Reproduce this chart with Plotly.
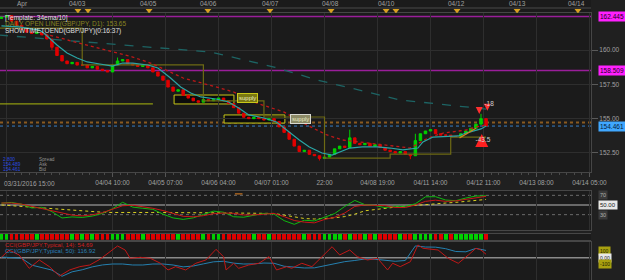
import plotly.graph_objects as go

# ---------------- data ----------------
# 2-hour bars on a trading-hour index (0 = 03/31/2016 15:00)
bar_hours = list(range(-2, 191, 2))
closes = [162.4, 162.5, 162.1, 161.8, 161.5, 161.3, 161.2, 161.3, 161.1, 160.8,
          160.2, 159.6, 159.2, 159.0, 159.1, 158.9, 158.9, 158.7, 158.8, 158.6,
          158.5, 158.4, 158.9, 159.2, 159.3, 159.0, 158.9, 158.8, 158.9, 158.7,
          158.4, 158.1, 157.8, 157.3, 157.0, 157.1, 156.7, 156.5, 156.3, 156.2,
          156.4, 156.3, 156.4, 156.5, 156.3, 156.1, 155.8, 155.4, 155.1, 155.0,
          155.1, 155.0, 154.9, 155.0, 154.8, 154.4, 154.0, 153.5, 153.0, 152.6,
          152.7, 152.4, 152.3, 152.1, 152.2, 152.4, 152.8, 153.0, 152.9, 153.6,
          153.2, 153.1, 153.2, 153.0, 153.1, 152.9, 152.7, 152.6, 152.5, 152.6,
          152.4, 152.3, 153.4, 153.9, 154.1, 154.2, 153.9, 153.8, 153.8, 153.7,
          153.7, 153.9, 154.1, 154.3, 154.6, 155.0, 154.46]
first_open = 162.3
wick_high = {69: 154.2, 82: 153.9, 95: 155.35, 23: 159.45}
wick_low = {63: 151.95, 81: 152.05, 10: 160.0}

ema_t = [-2, 5, 13, 15, 20, 24, 28, 32, 37, 42, 46, 50, 56, 60, 65, 69, 73, 77, 83, 88,
         92, 96, 102, 107, 112, 116, 120, 125, 129, 132, 136, 141, 147, 152, 157, 163,
         165, 169, 175, 179, 182, 188, 190]
ema_v = [161.75, 161.68, 161.45, 161.2, 160.36, 159.78, 159.42, 159.13, 158.98, 158.83,
         159.05, 159.05, 158.91, 158.69, 157.96, 157.31, 156.87, 156.58, 156.43, 156.21,
         155.78, 155.27, 155.05, 154.76, 154.03, 153.45, 152.94, 152.50, 152.35, 152.57,
         152.86, 152.94, 152.94, 152.86, 152.72, 152.86, 153.30, 153.66, 153.74, 153.74,
         153.95, 154.25, 154.46]

sma_t = [15, 24, 37, 50, 57, 70, 83, 90, 99, 110, 119, 127, 133, 143, 156, 160, 167, 173,
         182, 186, 190]
sma_v = [161.17, 160.73, 160.15, 159.49, 159.05, 157.96, 157.31, 156.94, 156.14, 155.48,
         154.54, 153.81, 153.45, 153.23, 152.94, 152.86, 153.59, 153.95, 154.17, 154.39,
         154.54]

lma_t = [-3, 37, 57, 81, 106, 123, 156, 184, 190]
lma_v = [161.09, 160.51, 160.22, 159.85, 158.76, 157.82, 156.36, 155.78, 155.70]

dopen_t = [-3, 30, 78, 102, 126, 152, 176, 190]
dopen_v = [161.60, 158.91, 156.29, 155.12, 152.13, 152.42, 153.66, 153.66]

wopen_t = [-3, 58]
wopen_v = [156.07, 156.07]

trend_t = [179.5, 186]
trend_v = [153.6, 154.3]

zone_t0 = [66.4, 86.2]
zone_t1 = [90.1, 110.3]
zone_lo = [156.07, 154.68]
zone_hi = [156.72, 155.27]
zone_label = ["supply", "supply"]
zone_label_t = [91.3, 112.3]
zone_label_v = [156.54, 155.01]

level_high = 162.445
level_low = 158.509
bid = 154.461
ask_line = 154.72

sig_dn_t = [187.3, 190.5]
sig_dn_v = [155.34, 155.58]
sig_up_t = [188.3]
sig_up_v = [153.88]
sig_txt = ["-18", "-43.5"]
sig_txt_t = [191.2, 188.8]
sig_txt_v = [156.05, 153.39]

osc_t = list(range(-2, 191, 4))
rsi_fast = [53.8, 55.3, 51.7, 43.8, 45.2, 36.2, 23.1, 25.3, 24.2, 27.1,
            32.5, 42.2, 55.6, 45.6, 43.2, 41.0, 31.0, 23.2, 20.2, 23.3,
            30.4, 37.3, 35.0, 25.7, 24.7, 28.3, 32.6, 31.1, 17.6, 10.0,
            18.4, 17.0, 24.2, 32.2, 46.9, 59.4, 50.7, 49.0, 44.5, 47.6,
            47.0, 52.5, 66.9, 67.2, 60.3, 58.9, 64.5, 68.6, 69.0]
rsi_slow = [54.1, 54.1, 51.7, 47.2, 41.4, 37.2, 33.0, 29.0, 27.4, 29.7,
            34.0, 40.5, 48.4, 49.4, 47.0, 43.2, 38.5, 32.2, 26.5, 25.5,
            27.9, 31.9, 33.4, 32.7, 29.3, 29.5, 31.7, 32.5, 26.0, 17.9,
            14.5, 13.0, 20.0, 24.5, 33.5, 47.0, 50.0, 50.0, 48.5, 44.8,
            44.8, 50.0, 57.5, 60.0, 57.5, 58.5, 61.5, 64.8, 68.0]
rsi_signal = [50, 48.5, 47, 45.5, 44, 42, 40, 38, 36.5, 35.5,
              35, 34.5, 35, 35, 34.5, 34.5, 34, 34, 34, 34,
              34, 34, 33.5, 33.5, 33.5, 33, 33, 32.5, 29, 25,
              22, 21, 22, 23.5, 26, 31, 38, 41, 43.5, 45.5,
              47.5, 49.5, 51, 52.5, 54, 55.5, 57.5, 59.5, 61.5]
rsi_orange_t = [90.5, 93.5]
rsi_orange_v = [73, 73]

cci14_t = [-2, 1, 5, 9, 13, 17, 21, 25, 29, 33, 37, 41, 44, 47, 49, 53, 57, 61, 64, 67,
           71, 75, 79, 83, 86, 87, 90, 92, 96, 100, 104, 107, 111, 113, 117, 121, 125,
           129, 132, 136, 139, 143, 147, 151, 153, 156, 160, 163, 165, 171, 175, 179,
           183, 186, 188, 190]
cci14_v = [6, 124, 44, -171, -37, -145, -295, -198, -145, -118, -26, 97, 189, 124, -10,
           6, -10, -90, -198, -145, -198, -90, -37, 135, 16, -198, -90, -171, -118, -90,
           16, -198, -145, -171, -90, -145, 16, 177, 44, 124, 16, -37, -10, -198, -90,
           -145, -65, 205, 152, 124, -10, -90, 44, 152, 124, 55]
cci50_v = [11, -5, -10, -120, -166, -200, -300, -228, -195, -148,
           -117, -102, -102, -118, -118, -102, -102, -118, -148, -134,
           -100, -67, -58, -88, -102, -100, -86, -90, -138, -152,
           -166, -164, -128, -95, -64, -45, -21, -25, -42, -58,
           -45, 190, 172, 170, 145, 100, 95, 150, 117]

bottom_tick_t = [0, 42, 63, 84, 105, 126, 147, 168, 189, 210, 231]
bottom_tick_txt = ["03/31/2016 15:00", "04/04 10:00", "04/05 07:00", "04/06 04:00",
                   "04/07 01:00", "22:00", "04/08 19:00", "04/11 14:00", "04/12 11:00",
                   "04/13 08:00", "04/14 05:00"]
top_lab_t = [6.3, 28.3, 56.3, 80.2, 104.4, 128.2, 150.4, 178.1, 202.3, 226.0]
top_lab_txt = ["Apr", "04/03", "04/05", "04/06", "04/07", "04/08", "04/10", "04/12",
               "04/13", "04/14"]
day_mark_t = [28.3, 32.3, 56.5, 79.8, 104.4, 128.6, 150.4, 154.3, 178.5, 202.3, 226.4]
price_ticks = [152.5, 155.0, 157.5, 160.0]

# ---------------- layout helpers ----------------
W, H = 625, 280
PW = 591
X_RANGE = [-2.575, 231.58]


def pxx(x):
    return x / PW


def pyy(y):
    return 1 - y / H


opens = [first_open] + closes[:-1]
highs = [max(o, c) for o, c in zip(opens, closes)]
lows = [min(o, c) for o, c in zip(opens, closes)]
for k, v in wick_high.items():
    highs[k] = max(highs[k], v)
for k, v in wick_low.items():
    lows[k] = min(lows[k], v)
GREEN, RED = "#00d000", "#e00000"
strip_col = [GREEN if c >= o else RED for o, c in zip(opens, closes)]

TXT = "#a0a0a0"
FONT = "Liberation Sans"
GRID = "#2e2e2e"
BORDER = "#464646"

fig = go.Figure()

# main panel
fig.add_trace(go.Scatter(x=lma_t, y=lma_v, mode="lines",
                         line=dict(color="#1d6464", width=1.3, dash="dash"),
                         xaxis="x", yaxis="y"))
fig.add_trace(go.Scatter(x=wopen_t, y=wopen_v, mode="lines",
                         line=dict(color="#8f9a10", width=1.2), xaxis="x", yaxis="y"))
fig.add_trace(go.Scatter(x=dopen_t, y=dopen_v, mode="lines", line_shape="hv",
                         line=dict(color="#6e6a14", width=1.2), xaxis="x", yaxis="y"))
fig.add_trace(go.Scatter(x=sma_t, y=sma_v, mode="lines",
                         line=dict(color="#c01818", width=1.3, dash="dot"),
                         xaxis="x", yaxis="y"))
fig.add_trace(go.Candlestick(x=bar_hours, open=opens, high=highs, low=lows, close=closes,
                             increasing=dict(line=dict(color=GREEN, width=1), fillcolor=GREEN),
                             decreasing=dict(line=dict(color=RED, width=1), fillcolor=RED),
                             whiskerwidth=0, xaxis="x", yaxis="y"))
fig.add_trace(go.Scatter(x=ema_t, y=ema_v, mode="lines",
                         line=dict(color="#2aa5a5", width=1.2), xaxis="x", yaxis="y"))
fig.add_trace(go.Scatter(x=trend_t, y=trend_v, mode="lines",
                         line=dict(color="#d08020", width=1.2), xaxis="x", yaxis="y"))
fig.add_trace(go.Scatter(x=sig_dn_t, y=sig_dn_v, mode="markers",
                         marker=dict(symbol="arrow-down", size=7, color="#ff3030"),
                         xaxis="x", yaxis="y"))
fig.add_trace(go.Scatter(x=sig_up_t, y=sig_up_v, mode="markers",
                         marker=dict(symbol="arrow-up", size=13, color="#ff2020"),
                         xaxis="x", yaxis="y"))
fig.add_trace(go.Scatter(x=sig_txt_t, y=sig_txt_v, mode="text", text=sig_txt,
                         textfont=dict(size=6.5, color="#d0d0d0", family=FONT),
                         xaxis="x", yaxis="y"))

# oscillator panel
fig.add_trace(go.Scatter(x=osc_t, y=rsi_signal, mode="lines",
                         line=dict(color="#d8d020", width=1, dash="dot"), xaxis="x2", yaxis="y2"))
fig.add_trace(go.Scatter(x=osc_t, y=rsi_fast, mode="lines",
                         line=dict(color="#10b810", width=1), xaxis="x2", yaxis="y2"))
fig.add_trace(go.Scatter(x=osc_t, y=rsi_slow, mode="lines",
                         line=dict(color="#c81818", width=1), xaxis="x2", yaxis="y2"))
fig.add_trace(go.Scatter(x=rsi_orange_t, y=rsi_orange_v, mode="lines",
                         line=dict(color="#c07020", width=1.2), xaxis="x2", yaxis="y2"))

# color strip
fig.add_trace(go.Bar(x=bar_hours, y=[1] * len(bar_hours), marker_color=strip_col,
                     marker_line_width=0, width=1.5, xaxis="x3", yaxis="y3"))

# CCI panel
fig.add_trace(go.Scatter(x=osc_t, y=cci50_v, mode="lines",
                         line=dict(color="#2580b0", width=1), xaxis="x4", yaxis="y4"))
fig.add_trace(go.Scatter(x=cci14_t, y=cci14_v, mode="lines",
                         line=dict(color="#c01818", width=1), xaxis="x4", yaxis="y4"))

# day markers on top strip
fig.add_trace(go.Scatter(x=day_mark_t, y=[2.6] * len(day_mark_t), mode="markers",
                         marker=dict(symbol="triangle-down", size=6, color="#d8a020"),
                         xaxis="x5", yaxis="y5"))

shapes = []
# price levels
for lv in (level_high, level_low):
    shapes.append(dict(type="line", xref="paper", x0=0, x1=1, yref="y", y0=lv, y1=lv,
                       line=dict(color="#9a1e9a", width=1.6), layer="below"))
shapes.append(dict(type="line", xref="paper", x0=0, x1=1, yref="y", y0=ask_line, y1=ask_line,
                   line=dict(color="#8a5a20", width=2, dash="dot"), layer="below"))
shapes.append(dict(type="line", xref="paper", x0=0, x1=1, yref="y", y0=bid, y1=bid,
                   line=dict(color="#3a80c8", width=1, dash="dot"), layer="below"))
for t0, t1, lo, hi in zip(zone_t0, zone_t1, zone_lo, zone_hi):
    shapes.append(dict(type="rect", xref="x", yref="y", x0=t0, x1=t1, y0=lo, y1=hi,
                       fillcolor="#0c0c0c", line=dict(color="#c8c818", width=1), layer="below"))
# oscillator levels
shapes.append(dict(type="line", xref="paper", x0=0, x1=1, yref="y2", y0=50, y1=50,
                   line=dict(color="#b8b8b8", width=1.2), layer="below"))
for lv in (70, 30):
    shapes.append(dict(type="line", xref="paper", x0=0, x1=1, yref="y2", y0=lv, y1=lv,
                       line=dict(color="#6a6a6a", width=1, dash="dot"), layer="below"))
shapes.append(dict(type="line", xref="paper", x0=0, x1=1, yref="y4", y0=0, y1=0,
                   line=dict(color="#8a8a8a", width=1.6), layer="below"))
# top strip axis line
shapes.append(dict(type="line", xref="paper", x0=0, x1=1, yref="y5", y0=5, y1=5,
                   line=dict(color="#4a4a4a", width=1)))

ann = []


def label(x, y, text, color=TXT, size=6.5, xanchor="left", xref="paper", yref="paper",
          bg=None, border=None):
    d = dict(x=x, y=y, xref=xref, yref=yref, text=text, showarrow=False, xanchor=xanchor,
             yanchor="middle", font=dict(size=size, color=color, family=FONT))
    if bg:
        d.update(bgcolor=bg, borderpad=1)
    if border:
        d.update(bordercolor=border, borderwidth=1)
    ann.append(d)


label(pxx(3), pyy(17.5), "[Template: 34ema/10]", color="#e0e0e0")
label(pxx(3), pyy(24), "DAILY OPEN LINE(GBP/JPY, D1): 153.65", color="#8a8420")
label(pxx(3), pyy(30.5), "SHOWTIMETOEND(GBP/JPY)(0:16:37)", color="#e0e0e0")

label(pxx(1), pyy(159.4), "2.800", color="#2a4ce0", size=4.8)
label(pxx(1), pyy(164.6), "154.489", color="#2a4ce0", size=4.8)
label(pxx(1), pyy(169.8), "154.461", color="#2a4ce0", size=4.8)
label(pxx(37), pyy(159.4), "Spread", color="#909090", size=4.8)
label(pxx(37), pyy(164.6), "Ask", color="#909090", size=4.8)
label(pxx(37), pyy(169.8), "Bid", color="#909090", size=4.8)

label(pxx(2), pyy(183.5), bottom_tick_txt[0])

for t, s in zip(top_lab_t, top_lab_txt):
    label(t, pyy(4), s, xanchor="center", xref="x")

for t, v, s in zip(zone_label_t, zone_label_v, zone_label):
    label(t, v, s, color="#e8e8c0", size=6, xref="x", yref="y",
          bg="#7a7812" if v > 156 else "#8c8a66", border="#c8c818" if v > 156 else "#d8d8d0")

label(1.012, level_high, "162.445", color="#200020", bg="#ff20ff", yref="y")
label(1.012, level_low, "158.509", color="#200020", bg="#ff20ff", yref="y")
label(1.012, bid, "154.461", color="#04203a", bg="#40a8ff", yref="y")

label(1.012, 70, "70", color="#b0b0b0", bg="#3a3a3a", yref="y2", size=5.5)
label(1.012, 50, "50.00", color="#202020", bg="#e8e8e8", yref="y2", size=6)
label(1.012, 30, "30", color="#b0b0b0", bg="#3a3a3a", yref="y2", size=5.5)

label(pxx(3), pyy(244.5), "CCI(GBP/JPY,Typical, 14): 54.69", color="#d02020", size=6)
label(pxx(3), pyy(250.5), "CCI(GBP/JPY,Typical, 50): 116.92", color="#2a80b8", size=6)
label(1.012, 100, "100", color="#202000", bg="#a8a010", yref="y4", size=5)
label(1.012, 0, "0.00", color="#202020", bg="#e8e8e8", yref="y4", size=5)
label(1.012, -100, "-100", color="#202000", bg="#a8a010", yref="y4", size=5)

xcommon = dict(range=X_RANGE, showgrid=True, gridcolor=GRID, gridwidth=1, zeroline=False,
               tickmode="array", tickvals=bottom_tick_t, showline=True, mirror=True,
               linecolor=BORDER, automargin=False)

layout = dict(
    width=W, height=H, margin=dict(l=0, r=W - PW, t=0, b=0),
    paper_bgcolor="#202020", plot_bgcolor="#1b1b1b", showlegend=False,
    font=dict(family=FONT, size=6.5, color=TXT),
    xaxis=dict(**xcommon, anchor="y", ticktext=[""] + bottom_tick_txt[1:],
               ticks="outside", ticklen=4, tickcolor="#555555",
               tickfont=dict(size=6.5, color=TXT, family=FONT),
               minor=dict(ticks="outside", ticklen=2, tickcolor="#4a4a4a", tickmode="linear",
                          tick0=0, dtick=3, showgrid=False),
               rangeslider=dict(visible=False)),
    xaxis2=dict(**xcommon, anchor="y2", matches="x", showticklabels=False),
    xaxis3=dict(range=X_RANGE, anchor="y3", matches="x", showgrid=False, showticklabels=False,
                zeroline=False, showline=True, mirror=True, linecolor=BORDER, automargin=False),
    xaxis4=dict(**xcommon, anchor="y4", matches="x", showticklabels=False),
    xaxis5=dict(range=X_RANGE, anchor="y5", matches="x", showgrid=False, showticklabels=False,
                zeroline=False, showline=False, automargin=False),
    yaxis=dict(domain=[pyy(172), pyy(13)], range=[151.114, 162.695], side="right",
               tickmode="array", tickvals=price_ticks, ticktext=[f"{v:.2f}" for v in price_ticks],
               ticks="outside", ticklen=6, tickcolor="#5a5a5a",
               tickfont=dict(size=6.5, color=TXT, family=FONT),
               showgrid=True, gridcolor=GRID, zeroline=False, showline=True, mirror=True,
               linecolor=BORDER, automargin=False),
    yaxis2=dict(domain=[pyy(230), pyy(190.7)], range=[-1.8, 79.6], side="right",
                showticklabels=False, showgrid=False, zeroline=False, showline=True,
                mirror=True, linecolor=BORDER, automargin=False),
    yaxis3=dict(domain=[pyy(239.8), pyy(233.6)], range=[0, 1], showticklabels=False,
                showgrid=False, zeroline=False, showline=False, automargin=False),
    yaxis4=dict(domain=[0, pyy(241.7)], range=[-360, 258], side="right",
                showticklabels=False, showgrid=False, zeroline=False, showline=True,
                mirror=True, linecolor=BORDER, automargin=False),
    yaxis5=dict(domain=[pyy(13), 1], range=[0, 13], showticklabels=False, showgrid=False,
                zeroline=False, showline=False, automargin=False),
    shapes=shapes, annotations=ann, bargap=0,
)
fig.update_layout(**layout)
fig.write_html("out.html")
